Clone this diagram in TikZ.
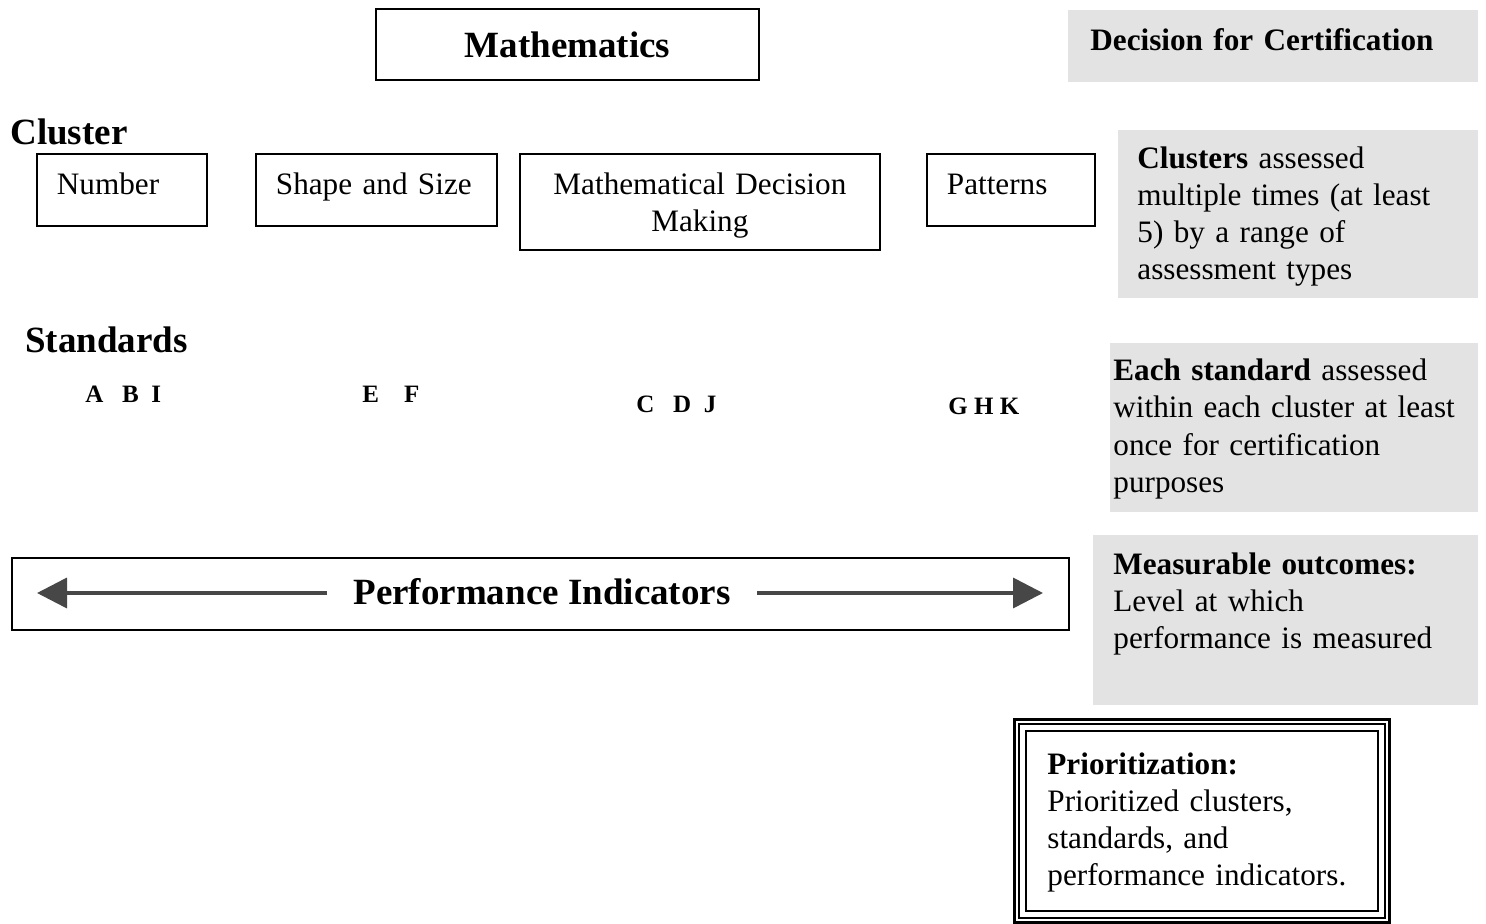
\documentclass[tikz,border=0pt]{standalone}
\usepackage{fontspec}
\setmainfont{Liberation Serif}
\usetikzlibrary{arrows.meta}
\tikzset{
  frame/.style={draw, line width=0.9pt},
  headfont/.style={font=\fontsize{18.5}{22}\selectfont\bfseries},
  bodyfont/.style={font=\fontsize{15.6}{18.5}\selectfont},
  clbox/.style={frame, bodyfont, anchor=north west, inner xsep=10pt, inner ysep=0pt,
    align=left, text height=20.5pt, text depth=15.5pt},
  note/.style={bodyfont, anchor=base west, inner sep=0pt, align=left, text width=180pt},
  shade/.style={fill=black!11, draw=none, inner sep=0pt, anchor=north west},
  letters/.style={font=\fontsize{12.5}{14}\selectfont\bfseries, anchor=base west, inner sep=0pt},
  heading/.style={headfont, anchor=base west, inner sep=0pt},
  bigarrow/.style={draw=black!72, line width=1.8pt, -{Triangle[length=15pt,width=15pt]}},
}
\begin{document}
\begin{tikzpicture}[x=0.5pt, y=-0.5pt]
  \useasboundingbox (0,0) rectangle (1486,924);

  % shaded notes on the right
  \node[shade, minimum width=205pt, minimum height=36pt] (g1) at (1068,10) {};
  \node[shade, minimum width=180pt, minimum height=84pt] (g2) at (1118,130) {};
  \node[shade, minimum width=184pt, minimum height=84.5pt] (g3) at (1110,343) {};
  \node[shade, minimum width=192.5pt, minimum height=85pt] (g4) at (1093,535) {};

  \node[note] (t1) at (1090,51) {\textbf{Decision for Certification}};
  \node[note] (t2) at (1137,169) {\textbf{Clusters} assessed\\multiple times (at least\\5) by a range of\\assessment types};
  \node[note] (t3) at (1113,381) {\textbf{Each standard} assessed\\within each cluster at least\\once for certification\\purposes};
  \node[note] (t4) at (1113,574) {\textbf{Measurable outcomes:}\\Level at which\\performance is measured};

  % subject
  \node[frame, headfont, minimum width=191.5pt, minimum height=35.5pt, inner sep=0pt] (math) at (567.5,44.5) {Mathematics};

  % clusters
  \node[heading] (cluster) at (10,145) {Cluster};
  \node[clbox, text width=65pt] (number) at (36,153) {Number};
  \node[clbox, text width=100.5pt] (shape) at (255,153) {Shape and Size};
  \node[clbox, text width=160pt, align=center, text depth=27.5pt] (mdm) at (519,153) {Mathematical Decision\\Making};
  \node[clbox, text width=64pt] (patterns) at (926,153) {Patterns};

  % standards
  \node[heading] (standards) at (25,353) {Standards};
  \node[letters] (sabi) at (85,403) {A\ \ \ B\ \ I};
  \node[letters] (sef) at (362,402) {E\ \ \ \ F};
  \node[letters] (scdj) at (636,413) {C\ \ \ D\ \ J};
  \node[letters] (sghk) at (948,415) {G H K};

  % performance indicators
  \node[frame, anchor=north west, minimum width=528.5pt, minimum height=36pt, inner sep=0pt] (perf) at (11,557) {};
  \node[headfont, anchor=base, inner sep=0pt] (perftext) at (542,604) {Performance Indicators};
  \coordinate (lstart) at (327,593);
  \coordinate (lend) at (37,593);
  \coordinate (rstart) at (757,593);
  \coordinate (rend) at (1043,593);
  \draw[bigarrow] (lstart) -- (lend);
  \draw[bigarrow] (rstart) -- (rend);

  % prioritization frame
  \node[draw, line width=1.5pt, anchor=north west, minimum width=187.5pt, minimum height=101.5pt, inner sep=0pt] (prio) at (1013,718) {};
  \draw[line width=0.6pt] ([shift={(3pt,-3pt)}]prio.north west) rectangle ([shift={(-3pt,3pt)}]prio.south east);
  \draw[line width=0.8pt] ([shift={(6.5pt,-6.5pt)}]prio.north west) rectangle ([shift={(-6.5pt,6.5pt)}]prio.south east);
  \node[note] (t5) at (1047,774) {\textbf{Prioritization:}\\Prioritized clusters,\\standards, and\\performance indicators.};
\end{tikzpicture}
\end{document}
